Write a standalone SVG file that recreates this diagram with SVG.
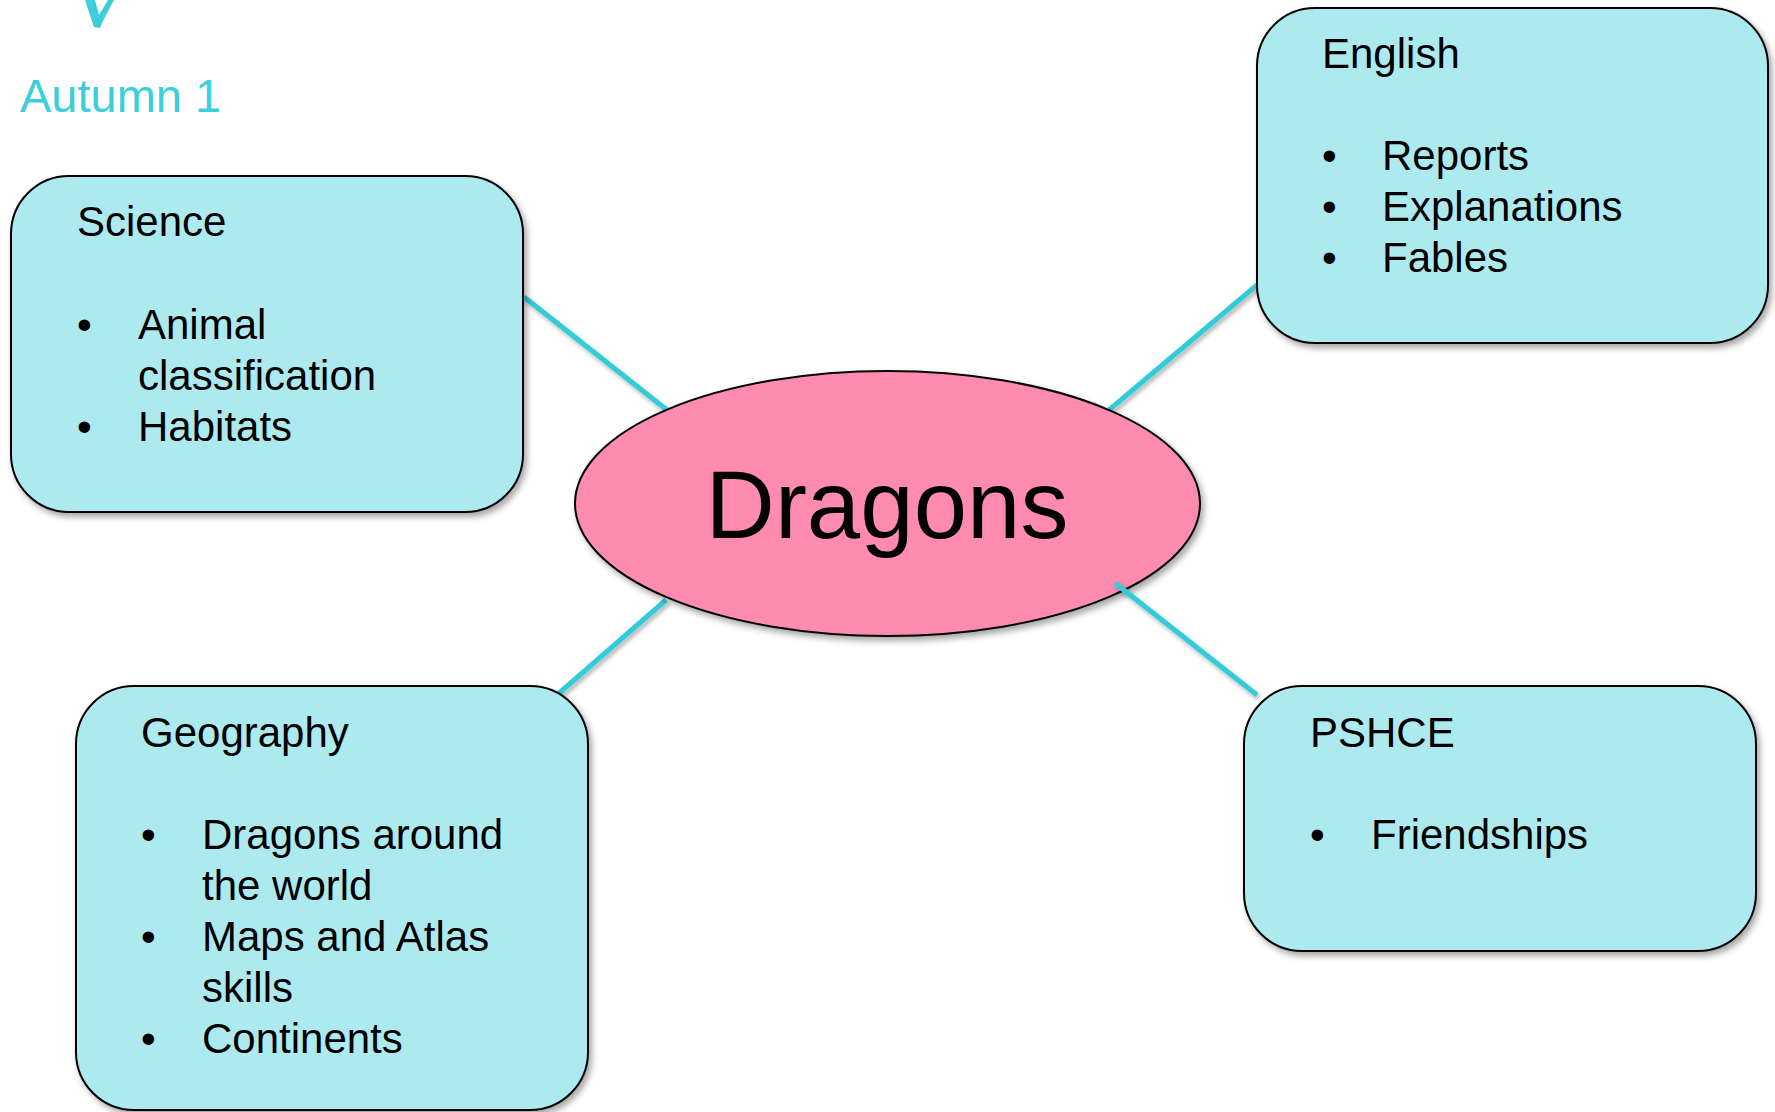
<svg xmlns="http://www.w3.org/2000/svg" width="1775" height="1112" viewBox="0 0 1775 1112">
<style>
.box{fill:#ADEAF0;stroke:#000;stroke-width:2;filter:url(#sh)}
.t{font-family:"Liberation Sans",Arial,sans-serif;font-size:42px;fill:#000}
.conn{stroke:#33CCD8;stroke-width:5;fill:none;filter:url(#sh2)}
</style>
<defs>
<filter id="sh" x="-10%" y="-10%" width="125%" height="125%">
<feDropShadow dx="3" dy="4" stdDeviation="3" flood-color="#000" flood-opacity="0.35"/>
</filter>
<filter id="sh2" x="-20%" y="-20%" width="140%" height="140%">
<feDropShadow dx="2" dy="3" stdDeviation="2" flood-color="#000" flood-opacity="0.3"/>
</filter>
</defs>
<rect width="1775" height="1112" fill="#fff"/>
<path d="M85,0 L95,0 L99,15 L108,0 L114,0 L103,21 L100,28 L94,27 Z" fill="#3CCFDB"/>
<text x="20" y="112" font-family="Liberation Sans,Arial,sans-serif" font-size="47" fill="#3CCFDB">Autumn 1</text>
<g id="connectors">
<line class="conn" x1="524" y1="297" x2="667" y2="410"/>
<line class="conn" x1="1257" y1="285" x2="1109" y2="410"/>
<line class="conn" x1="666" y1="600" x2="557" y2="695"/>
</g>
<g id="science">
<rect class="box" x="11" y="176" width="512" height="336" rx="58"/>
<text class="t" x="77" y="236">Science</text>
<text class="t" x="77" y="339">•</text><text class="t" x="138" y="339">Animal</text>
<text class="t" x="138" y="390">classification</text>
<text class="t" x="77" y="441">•</text><text class="t" x="138" y="441">Habitats</text>
</g>
<g id="english">
<rect class="box" x="1257" y="8" width="511" height="335" rx="58"/>
<text class="t" x="1322" y="68">English</text>
<text class="t" x="1322" y="170">•</text><text class="t" x="1382" y="170">Reports</text>
<text class="t" x="1322" y="221">•</text><text class="t" x="1382" y="221">Explanations</text>
<text class="t" x="1322" y="272">•</text><text class="t" x="1382" y="272">Fables</text>
</g>
<g id="geography">
<rect class="box" x="76" y="686" width="512" height="424" rx="58"/>
<text class="t" x="141" y="747">Geography</text>
<text class="t" x="141" y="849">•</text><text class="t" x="202" y="849">Dragons around</text>
<text class="t" x="202" y="900">the world</text>
<text class="t" x="141" y="951">•</text><text class="t" x="202" y="951">Maps and Atlas</text>
<text class="t" x="202" y="1002">skills</text>
<text class="t" x="141" y="1053">•</text><text class="t" x="202" y="1053">Continents</text>
</g>
<g id="pshce">
<rect class="box" x="1244" y="686" width="512" height="265" rx="58"/>
<text class="t" x="1310" y="747">PSHCE</text>
<text class="t" x="1310" y="849">•</text><text class="t" x="1371" y="849">Friendships</text>
</g>
<g id="dragons">
<ellipse cx="887.5" cy="503.5" rx="312.5" ry="132.5" fill="#FF8BB1" stroke="#000" stroke-width="2" filter="url(#sh)"/>
<text x="887" y="538" text-anchor="middle" font-family="Liberation Sans,Arial,sans-serif" font-size="96" fill="#000">Dragons</text>
</g>
<g id="connectors-front">
<line class="conn" x1="1115" y1="583" x2="1257" y2="695"/>
</g>
</svg>
